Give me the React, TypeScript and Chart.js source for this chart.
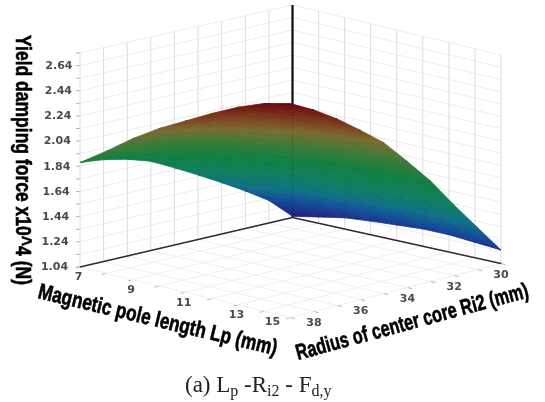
import React, { useEffect, useRef } from "react";
import { Chart, registerables } from "chart.js";

Chart.register(...registerables);

const lpValues = [7, 8, 9, 10, 11, 12, 13, 14, 15];
const riValues = [39, 38, 37, 36, 35, 34, 33, 32, 31, 30];
const zGridValues = [1.04, 1.14, 1.24, 1.34, 1.44, 1.54, 1.64, 1.74, 1.84, 1.94, 2.04, 2.14, 2.24, 2.34, 2.44, 2.54, 2.64, 2.74];

// one row per Ri value, one column per Lp value
const forceRi39 = [1.87, 2.01, 2.16, 2.29, 2.4, 2.51, 2.61, 2.69, 2.74];
const forceRi38 = [1.85, 1.98, 2.12, 2.24, 2.34, 2.44, 2.52, 2.59, 2.645];
const forceRi37 = [1.81, 1.93, 2.06, 2.16, 2.25, 2.345, 2.42, 2.485, 2.53];
const forceRi36 = [1.75, 1.86, 1.98, 2.07, 2.155, 2.235, 2.31, 2.36, 2.395];
const forceRi35 = [1.655, 1.76, 1.87, 1.96, 2.03, 2.11, 2.17, 2.216, 2.25];
const forceRi34 = [1.555, 1.647, 1.74, 1.82, 1.88, 1.946, 2.0, 2.03, 2.055];
const forceRi33 = [1.45, 1.53, 1.61, 1.67, 1.72, 1.775, 1.81, 1.835, 1.85];
const forceRi32 = [1.34, 1.4, 1.466, 1.51, 1.545, 1.58, 1.6, 1.61, 1.61];
const forceRi31 = [1.22, 1.27, 1.317, 1.346, 1.368, 1.39, 1.398, 1.39, 1.38];
const forceRi30 = [1.05, 1.09, 1.13, 1.15, 1.165, 1.18, 1.18, 1.165, 1.15];
const forceRows = [forceRi39, forceRi38, forceRi37, forceRi36, forceRi35, forceRi34, forceRi33, forceRi32, forceRi31, forceRi30];

const zTickLabels = ["1.04", "1.24", "1.44", "1.64", "1.84", "2.04", "2.24", "2.44", "2.64"];
const lpTickLabels = ["7", "9", "11", "13", "15"];
const riTickLabels = ["30", "32", "34", "36", "38"];

const colorStopZ = [1.05, 1.25, 1.4, 1.6, 1.85, 2.05, 2.25, 2.45, 2.7];
const colorStopHex = ["#271a78", "#144c9a", "#0f6f88", "#0f7d5f", "#127f3f", "#3f7a38", "#7a6a30", "#7c3a1c", "#6a0a0e"];

const Z_MIN = 1.04;
const Z_MAX = 2.74;

// oblique view of the box: floor corners and wall heights
function project(lp: number, ri: number, z: number) {
  const u = (lp - 7) / 8;
  const v = (39 - ri) / 9;
  const mix = (a: number, b: number, c: number, d: number) =>
    (1 - u) * (1 - v) * a + u * (1 - v) * b + u * v * c + (1 - u) * v * d;
  const x = mix(80, 290.5, 501, 292.5);
  const y = mix(267, 317.5, 263.5, 217.5);
  const h = mix(214, 214, 208.5, 212.5);
  return { x, y: y - ((z - Z_MIN) / (Z_MAX - Z_MIN)) * h };
}

function lineDs(points: { x: number; y: number }[], color: string, width: number, dash?: number[]) {
  return {
    data: points,
    showLine: true,
    fill: false,
    borderColor: color,
    borderWidth: width,
    borderDash: dash || [],
    pointRadius: 0,
    tension: 0,
  };
}

function triangleDs(a: number[], b: number[], c: number[]) {
  const pts = [a, b, c].map(([lp, ri, z]) => ({ ...project(lp, ri, z), z }));
  const paint = (ctx: any) => {
    const chart = ctx.chart;
    const sx = chart.scales.x;
    const sy = chart.scales.y;
    if (!sx || !sy) return "#127f3f";
    const p = pts.map((q) => ({ x: sx.getPixelForValue(q.x), y: sy.getPixelForValue(q.y), z: q.z }));
    if (p.some((q) => !Number.isFinite(q.x) || !Number.isFinite(q.y))) return "#127f3f";
    const dx1 = p[1].x - p[0].x, dy1 = p[1].y - p[0].y, dz1 = p[1].z - p[0].z;
    const dx2 = p[2].x - p[0].x, dy2 = p[2].y - p[0].y, dz2 = p[2].z - p[0].z;
    const det = dx1 * dy2 - dx2 * dy1;
    let gx = 0, gy = 1e-4;
    if (Math.abs(det) > 1e-6) {
      gx = (dz1 * dy2 - dz2 * dy1) / det;
      gy = (dx1 * dz2 - dx2 * dz1) / det;
    }
    let g2 = gx * gx + gy * gy;
    if (g2 < 1e-9) { gx = 0; gy = 1e-4; g2 = 1e-8; }
    const lo = colorStopZ[0];
    const hi = colorStopZ[colorStopZ.length - 1];
    const coords = [
      p[0].x + (gx * (lo - p[0].z)) / g2,
      p[0].y + (gy * (lo - p[0].z)) / g2,
      p[0].x + (gx * (hi - p[0].z)) / g2,
      p[0].y + (gy * (hi - p[0].z)) / g2,
    ];
    if (coords.some((v) => !Number.isFinite(v))) return "#127f3f";
    const g = chart.ctx.createLinearGradient(coords[0], coords[1], coords[2], coords[3]);
    colorStopZ.forEach((s, i) => g.addColorStop((s - lo) / (hi - lo), colorStopHex[i]));
    return g;
  };
  return {
    data: [...pts.map((q) => ({ x: q.x, y: q.y })), { x: pts[0].x, y: pts[0].y }],
    showLine: true,
    fill: "shape",
    backgroundColor: paint,
    borderColor: paint,
    borderWidth: 0.8,
    pointRadius: 0,
    tension: 0,
  };
}

function buildDatasets() {
  const top: any[] = [];
  // first dataset is painted last
  top.push(lineDs([project(7, 30, 1.06), project(7, 30, 1.9)], "rgba(0,0,0,0.28)", 1, [1, 2]));
  for (let s = 0; s < riValues.length - 1; s++) {
    for (let j = 0; j < lpValues.length - 1; j++) {
      const r0 = riValues[s], r1 = riValues[s + 1], l0 = lpValues[j], l1 = lpValues[j + 1];
      const a = [l0, r0, forceRows[s][j]];
      const b = [l1, r0, forceRows[s][j + 1]];
      const c = [l1, r1, forceRows[s + 1][j + 1]];
      const d = [l0, r1, forceRows[s + 1][j]];
      top.push(triangleDs(a, b, c));
      top.push(triangleDs(a, c, d));
    }
  }
  top.push(lineDs([project(7, 39, Z_MIN), project(7, 30, Z_MIN)], "#2e2e2e", 1.5));
  top.push(lineDs([project(7, 30, Z_MIN), project(15, 30, Z_MIN)], "#2e2e2e", 1.5));
  top.push(lineDs([project(7, 30, Z_MIN), project(7, 30, Z_MAX)], "#0a0a0a", 2.2));
  const vert = "#dcdcdc", horiz = "#ececec", floor = "#efefef", tick = "#b4b4b4";
  for (const ri of riValues) {
    top.push(lineDs([project(7, ri, Z_MIN), project(7, ri, Z_MAX)], vert, 1));
    top.push(lineDs([project(7, ri, Z_MIN), project(15, ri, Z_MIN)], floor, 1));
    const e = project(15, ri, Z_MIN);
    top.push(lineDs([e, { x: e.x + 4.5, y: e.y + 1.2 }], tick, 1));
  }
  for (const lp of lpValues) {
    top.push(lineDs([project(lp, 30, Z_MIN), project(lp, 30, Z_MAX)], vert, 1));
    top.push(lineDs([project(lp, 30, Z_MIN), project(lp, 39, Z_MIN)], floor, 1));
    const e = project(lp, 39, Z_MIN);
    top.push(lineDs([e, { x: e.x - 4.5, y: e.y + 1.2 }], tick, 1));
  }
  for (const z of zGridValues) {
    top.push(lineDs([project(7, 39, z), project(7, 30, z)], horiz, 1));
    top.push(lineDs([project(7, 30, z), project(15, 30, z)], horiz, 1));
    const e = project(7, 39, z);
    top.push(lineDs([{ x: e.x - 4, y: e.y }, e], tick, 1));
  }
  return top;
}

const textPlugin = {
  id: "boxText",
  afterDatasetsDraw(chart: any) {
    const ctx = chart.ctx;
    const sx = chart.scales.x;
    const sy = chart.scales.y;
    const at = (p: { x: number; y: number }) => ({ x: sx.getPixelForValue(p.x), y: sy.getPixelForValue(p.y) });
    ctx.save();
    ctx.fillStyle = "#4a4a4a";
    ctx.font = "bold 11px 'DejaVu Sans'";
    ctx.textBaseline = "middle";
    ctx.textAlign = "right";
    zTickLabels.forEach((t, i) => {
      const p = at(project(7, 39, parseFloat(t)));
      ctx.fillText(t, p.x - 7.5 + (i - 8) * 0.55, p.y + 0.5);
    });
    ctx.textAlign = "center";
    lpTickLabels.forEach((t) => {
      const p = at(project(parseFloat(t), 39, Z_MIN));
      if (t === "15") ctx.fillText(t, p.x - 18, p.y + 5);
      else ctx.fillText(t, p.x - 1.5, p.y + 10.5);
    });
    riTickLabels.forEach((t) => {
      const p = at(project(15, parseFloat(t), Z_MIN));
      ctx.fillText(t, p.x + 0, p.y + 12);
    });

    const title = (text: string, x: number, y: number, angle: number, w: number) => {
      ctx.save();
      ctx.translate(x, y);
      ctx.rotate((angle * Math.PI) / 180);
      ctx.font = "bold 22px 'Liberation Sans'";
      ctx.fillStyle = "#000";
      ctx.strokeStyle = "#000";
      ctx.lineWidth = 0.6;
      ctx.textAlign = "left";
      ctx.textBaseline = "alphabetic";
      ctx.fillText(text, 0, 0, w);
      ctx.strokeText(text, 0, 0, w);
      ctx.restore();
    };
    title("Yield damping force x10^4 (N)", 16, 35, 90, 250);
    title("Magnetic pole length Lp (mm)", 37, 298, 13.5, 245);
    title("Radius of center core Ri2 (mm)", 298, 360, -15.2, 240);

    ctx.fillStyle = "#222";
    ctx.textAlign = "left";
    ctx.textBaseline = "alphabetic";
    let cx = 185;
    const base = 392;
    const seg = (s: string, sub: boolean) => {
      ctx.font = (sub ? "16px" : "23px") + " 'Liberation Serif'";
      ctx.fillText(s, cx, sub ? base + 4 : base);
      cx += ctx.measureText(s).width;
    };
    seg("(a) L", false);
    seg("p", true);
    seg(" -R", false);
    seg("i2", true);
    seg(" - F", false);
    seg("d,y", true);
    ctx.restore();
  },
};

export default function App() {
  const ref = useRef<HTMLCanvasElement | null>(null);
  useEffect(() => {
    if (!ref.current) return;
    const chart = new Chart(ref.current, {
      type: "scatter",
      data: { datasets: buildDatasets() },
      options: {
        animation: false,
        responsive: false,
        devicePixelRatio: 1,
        layout: { padding: 0 },
        clip: false,
        scales: {
          x: { type: "linear", display: false, min: 0, max: 545 },
          y: { type: "linear", display: false, min: 0, max: 402, reverse: true },
        },
        plugins: { legend: { display: false }, tooltip: { enabled: false }, title: { display: false } },
      },
      plugins: [textPlugin],
    } as any);
    return () => chart.destroy();
  }, []);
  return (
    <canvas
      ref={ref}
      width={545}
      height={402}
      style={{ position: "fixed", left: 0, top: 0, display: "block", background: "#fff", filter: "blur(0.4px)" }}
    />
  );
}
